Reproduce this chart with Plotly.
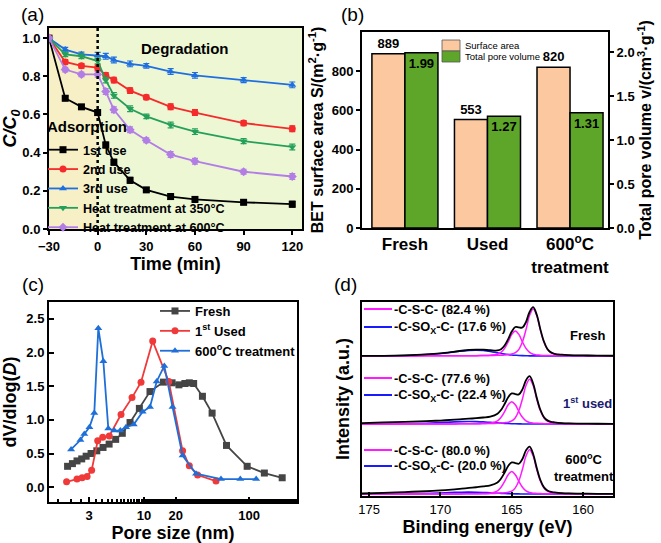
import plotly.graph_objects as go

W, H = 661, 543
FONT = "Liberation Sans, Arial, sans-serif"


def px(x):
    return x / W


def py(y):
    return 1 - y / H


# ---------------- (a) degradation kinetics ----------------
time_min = [-30, -20, -10, 0, 5, 10, 20, 30, 45, 60, 90, 120]
c_1st = [1.0, 0.685, 0.64, 0.61, 0.44, 0.35, 0.255, 0.205, 0.17, 0.155, 0.14, 0.13]
c_2nd = [1.0, 0.875, 0.855, 0.845, 0.805, 0.78, 0.725, 0.69, 0.64, 0.61, 0.555, 0.525]
c_3rd = [1.0, 0.94, 0.915, 0.91, 0.905, 0.885, 0.865, 0.855, 0.825, 0.805, 0.78, 0.755]
c_350 = [1.0, 0.915, 0.905, 0.88, 0.78, 0.70, 0.63, 0.59, 0.545, 0.51, 0.46, 0.43]
c_600 = [1.0, 0.835, 0.81, 0.81, 0.72, 0.625, 0.52, 0.465, 0.39, 0.355, 0.30, 0.275]
err_a = [0.005, 0.012, 0.012, 0.015, 0.015, 0.015, 0.015, 0.012, 0.015, 0.015, 0.013, 0.015]
names_a = ["1st use", "2nd use", "3rd use", "Heat treatment at 350°C", "Heat treatment at 600°C"]

# ---------------- (b) BET ----------------
samples_b = ["Fresh", "Used", "600<sup>o</sup>C<br>treatment"]
surface_area = [889, 553, 820]
pore_volume = [1.99, 1.27, 1.31]
names_b = ["Surface area", "Total pore volume"]

# ---------------- (c) pore size distribution ----------------
d_fresh = [1.87, 2.08, 2.30, 2.55, 2.81, 3.13, 3.55, 4.07, 4.65, 5.37, 6.21, 7.36, 9.03, 11.4,
           15.3, 18.5, 21.5, 24.5, 27.0, 29.7, 36.0, 44.5, 61.0, 96.0, 140.0, 207.0]
v_fresh = [0.31, 0.35, 0.39, 0.42, 0.46, 0.50, 0.54, 0.59, 0.64, 0.71, 0.80, 0.96, 1.17, 1.42,
           1.56, 1.55, 1.52, 1.54, 1.55, 1.54, 1.35, 1.10, 0.62, 0.31, 0.21, 0.14]
d_used = [1.83, 2.30, 2.57, 2.87, 3.17, 3.62, 4.04, 4.67, 6.04, 7.69, 9.36, 12.1, 17.2,
          23.3, 27.0, 32.4, 48.5]
v_used = [0.08, 0.12, 0.14, 0.16, 0.25, 0.69, 0.74, 0.76, 1.08, 1.33, 1.56, 2.17, 1.57,
          0.54, 0.32, 0.18, 0.09]
d_600 = [2.02, 2.48, 2.70, 3.02, 3.36, 3.67, 4.10, 4.57, 5.21, 5.95, 6.74, 7.98, 9.71, 11.4,
         13.2, 15.6, 18.7, 23.3, 31.3, 54.1, 82.6, 117.0]
v_600 = [0.56, 0.70, 0.79, 0.89, 1.10, 2.36, 1.87, 0.87, 0.84, 0.84, 0.89, 0.93, 1.12, 1.19,
         1.57, 1.80, 1.19, 0.47, 0.20, 0.12, 0.12, 0.12]

# ---------------- (d) XPS S 2p ----------------
be = [175.5, 174.0, 172.5, 171.0, 170.0, 169.0, 168.5, 168.0, 167.5, 167.0, 166.5, 166.0,
      165.75, 165.5, 165.25, 165.0, 164.75, 164.5, 164.25, 164.0, 163.75, 163.5, 163.25,
      163.0, 162.75, 162.5, 162.25, 162.0, 161.5, 161.0, 160.0, 159.0, 157.9]
# Fresh
fr_env = [0, 0.05, 0.28, 0.76, 1.33, 2.24, 2.69, 3.09, 3.29, 3.21, 2.93, 2.82, 3.47, 5.35,
          8.65, 12.56, 14.9, 14.7, 14.62, 17.5, 22.67, 25.11, 21.35, 13.95, 7.55, 3.61, 1.83,
          1.11, 0.65, 0.43, 0.25, 0.16, 0.09]
fr_p1 = [0, 0, 0.02, 0.03, 0.04, 0.07, 0.10, 0.12, 0.15, 0.19, 0.24, 0.34, 0.41, 0.53, 0.73,
         0.97, 1.65, 3.39, 7.26, 13.55, 20.81, 24.2, 20.81, 13.55, 7.26, 3.39, 1.65, 0.97,
         0.53, 0.34, 0.19, 0.12, 0.07]
fr_p2 = [0, 0, 0.01, 0.03, 0.04, 0.07, 0.09, 0.12, 0.14, 0.22, 0.39, 0.88, 1.81, 3.87, 7.22,
         11.09, 12.9, 11.09, 7.22, 3.87, 1.81, 0.88, 0.52, 0.39, 0.28, 0.22, 0.18, 0.14, 0.12,
         0.09, 0.06, 0.04, 0.02]
fr_sox = [0, 0.05, 0.25, 0.7, 1.25, 2.1, 2.5, 2.85, 3.0, 2.8, 2.3, 1.6, 1.25, 0.95, 0.7, 0.5,
          0.35, 0.22, 0.14, 0.08, 0.05, 0.03, 0.02, 0.01, 0, 0, 0, 0, 0, 0, 0, 0, 0]
# 1st used
us_env = [0.5, 0.81, 1.14, 1.46, 1.8, 2.24, 2.49, 2.74, 3.02, 3.36, 3.81, 5.3, 7.25, 10.33,
          13.82, 15.77, 15.43, 15.27, 17.88, 22.57, 24.68, 20.92, 13.68, 7.48, 3.64, 1.88,
          1.16, 0.86, 0.48, 0.32, 0.21, 0.13, 0.08]
us_p1 = [0, 0, 0.02, 0.03, 0.05, 0.07, 0.1, 0.12, 0.16, 0.21, 0.25, 0.39, 0.5, 0.69, 0.93,
         1.57, 3.24, 6.93, 12.93, 19.86, 23.1, 19.86, 12.93, 6.93, 3.24, 1.57, 0.93, 0.69,
         0.39, 0.25, 0.16, 0.1, 0.06]
us_p2 = [0, 0.01, 0.02, 0.03, 0.05, 0.07, 0.09, 0.12, 0.16, 0.25, 0.46, 1.61, 3.45, 6.44,
         9.89, 11.5, 9.89, 6.44, 3.45, 1.61, 0.78, 0.46, 0.35, 0.25, 0.2, 0.16, 0.13, 0.12,
         0.09, 0.07, 0.05, 0.03, 0.02]
us_sox = [0, 0.05, 0.15, 0.4, 0.7, 1.1, 1.25, 1.3, 1.25, 1.1, 0.85, 0.6, 0.48, 0.36, 0.26,
          0.18, 0.12, 0.08, 0.05, 0.03, 0.02, 0.01, 0, 0, 0, 0, 0, 0, 0, 0, 0, 0, 0]
# 600 C treatment
t6_env = [0.3, 0.61, 1.04, 1.46, 1.9, 2.44, 2.79, 3.14, 3.52, 3.95, 4.51, 6.01, 7.98, 11.08,
          14.49, 16.35, 15.97, 15.64, 18.05, 22.52, 24.49, 20.66, 13.52, 7.39, 3.59, 1.86,
          1.14, 0.85, 0.48, 0.32, 0.21, 0.13, 0.08]
t6_p1 = [0, 0, 0.02, 0.03, 0.05, 0.07, 0.1, 0.12, 0.16, 0.2, 0.25, 0.39, 0.5, 0.68, 0.91,
         1.55, 3.19, 6.84, 12.77, 19.6, 22.8, 19.6, 12.77, 6.84, 3.19, 1.55, 0.91, 0.68,
         0.39, 0.25, 0.16, 0.1, 0.06]
t6_p2 = [0, 0.01, 0.02, 0.03, 0.05, 0.07, 0.09, 0.12, 0.16, 0.25, 0.46, 1.62, 3.48, 6.5,
         9.98, 11.6, 9.98, 6.5, 3.48, 1.62, 0.79, 0.46, 0.35, 0.25, 0.2, 0.16, 0.13, 0.12,
         0.09, 0.07, 0.05, 0.03, 0.02]
t6_sox = [0, 0.05, 0.12, 0.3, 0.55, 0.85, 0.97, 1.0, 0.95, 0.82, 0.65, 0.45, 0.36, 0.28,
          0.2, 0.14, 0.1, 0.07, 0.04, 0.02, 0.01, 0, 0, 0, 0, 0, 0, 0, 0, 0, 0, 0, 0]
stack_offset = [72.2, 37.1, 1.0]
csc_pct = ["82.4", "77.6", "80.0"]
csox_pct = ["17.6", "22.4", "20.0"]
xps_labels = ["Fresh", "1<sup>st</sup> used", "600<sup>o</sup>C<br>treatment"]

fig = go.Figure()

# ---- panel a traces
colors_a = ["#000000", "#f52a2a", "#1f6fe0", "#24a05a", "#b27ee6"]
symbols_a = ["square", "circle", "triangle-up", "triangle-down", "diamond"]
for name, ys, col, sym in zip(names_a, [c_1st, c_2nd, c_3rd, c_350, c_600], colors_a, symbols_a):
    fig.add_trace(go.Scatter(
        x=time_min, y=ys, name=name, mode="lines+markers",
        line=dict(color=col, width=1.8),
        marker=dict(symbol=sym, size=7, color=col),
        error_y=dict(type="data", array=err_a, color=col, thickness=1.2, width=3),
        xaxis="x", yaxis="y", legend="legend"))

# ---- panel b traces
colors_b = ["#fbc8a0", "#5ea62a"]
fig.add_trace(go.Bar(
    x=samples_b, y=surface_area, name=names_b[0], width=0.4, offset=-0.4,
    marker=dict(color=colors_b[0], line=dict(color="black", width=1.5)),
    text=[str(v) for v in surface_area], textposition="outside", constraintext="none",
    textfont=dict(family=FONT, size=13, color="black", weight="bold"), cliponaxis=False,
    xaxis="x2", yaxis="y2", showlegend=False))
fig.add_trace(go.Bar(
    x=samples_b, y=pore_volume, name=names_b[1], width=0.4, offset=0.0,
    marker=dict(color=colors_b[1], line=dict(color="black", width=1.5)),
    text=[f"{v:.2f}" for v in pore_volume], textposition="inside", insidetextanchor="end",
    constraintext="none",
    textfont=dict(family=FONT, size=13, color="black", weight="bold"),
    xaxis="x2", yaxis="y3", showlegend=False))

# ---- panel c traces
for name, xs, ys, col, sym in [
        ("Fresh", d_fresh, v_fresh, "#454545", "square"),
        ("1<sup>st</sup> Used", d_used, v_used, "#f03a3a", "circle"),
        ("600<sup>o</sup>C treatment", d_600, v_600, "#1f6fd8", "triangle-up")]:
    fig.add_trace(go.Scatter(
        x=xs, y=ys, name=name, mode="lines+markers",
        line=dict(color=col, width=1.8), marker=dict(symbol=sym, size=7, color=col),
        xaxis="x4", yaxis="y4", legend="legend3"))

# ---- panel d traces
for off, env, p1, p2, sox in zip(stack_offset, [fr_env, us_env, t6_env],
                                 [fr_p1, us_p1, t6_p1], [fr_p2, us_p2, t6_p2],
                                 [fr_sox, us_sox, t6_sox]):
    for ys, col, wdt in [(sox, "#1a1aff", 1.6), (p1, "#ff1aff", 1.5), (p2, "#ff1aff", 1.5),
                         (env, "#000000", 1.8)]:
        fig.add_trace(go.Scatter(
            x=be, y=[off + v for v in ys], mode="lines", line=dict(color=col, width=wdt, shape="spline"),
            showlegend=False, xaxis="x5", yaxis="y5"))

# ---- axes
axis_common = dict(showline=True, linecolor="black", linewidth=2, mirror=True, showgrid=False,
                   zeroline=False, tickcolor="black", automargin=False)
tickf = dict(family=FONT, size=13, color="black", weight="bold")
titlef = dict(family=FONT, size=18, color="black", weight="bold")

fig.update_layout(
    width=W, height=H, margin=dict(l=0, r=0, t=0, b=0, autoexpand=False),
    paper_bgcolor="white", plot_bgcolor="rgba(0,0,0,0)",
    font=dict(family=FONT, color="black"),
    xaxis=dict(domain=[px(49), px(302)], range=[-30, 126], tickvals=[-30, 0, 30, 60, 90, 120],
               ticks="outside", ticklen=4, tickwidth=1.5, tickfont=tickf, anchor="y",
               title=dict(text="Time (min)", font=titlef, standoff=2), **axis_common),
    yaxis=dict(domain=[py(229), py(28)], range=[0, 1.053], tickvals=[0, 0.2, 0.4, 0.6, 0.8, 1.0],
               tickformat=".1f", ticks="outside", ticklen=4, tickwidth=1.5, tickfont=tickf, anchor="x",
               title=dict(text="<i>C/C<sub>0</sub></i>", font=titlef, standoff=4), **axis_common),
    xaxis2=dict(domain=[px(362), px(608)], range=[-0.52, 2.46], type="category",
                ticks="", tickfont=dict(family=FONT, size=17, color="black", weight="bold"),
                anchor="y2", **axis_common),
    yaxis2=dict(domain=[py(228), py(32)], range=[0, 1000], tickvals=[0, 200, 400, 600, 800],
                ticks="outside", ticklen=4, tickwidth=1.5, tickfont=tickf, anchor="x2",
                title=dict(text="BET surface area S/(m<sup>2</sup>·g<sup>-1</sup>)",
                           font=dict(family=FONT, size=16, color="black", weight="bold"), standoff=4),
                **axis_common),
    yaxis3=dict(range=[0, 2.227], tickvals=[0, 0.5, 1.0, 1.5, 2.0], tickformat=".1f",
                overlaying="y2", side="right", anchor="x2",
                ticks="outside", ticklen=4, tickwidth=1.5, tickfont=tickf,
                title=dict(text="Total pore volume v/(cm<sup>3</sup>·g<sup>-1</sup>)",
                           font=dict(family=FONT, size=16, color="black", weight="bold"), standoff=1),
                showline=True, linecolor="black", linewidth=2, showgrid=False, zeroline=False,
                tickcolor="black", automargin=False),
    xaxis4=dict(domain=[px(49), px(297)], type="log", range=[0.095, 2.457],
                tickvals=[3, 10, 20, 100], ticktext=["3", "10", "20", "100"],
                ticks="inside", ticklen=5, tickwidth=1.5, tickfont=tickf, anchor="y4",
                minor=dict(ticks="inside", ticklen=3, tickcolor="black", showgrid=False),
                title=dict(text="Pore size (nm)", font=titlef, standoff=2), **axis_common),
    yaxis4=dict(domain=[py(502), py(302)], range=[-0.22, 2.75],
                tickvals=[0, 0.5, 1.0, 1.5, 2.0, 2.5], tickformat=".1f",
                ticks="inside", ticklen=5, tickwidth=1.5, tickfont=tickf, anchor="x4",
                title=dict(text="dV/dlog(<i>D</i>)", font=titlef, standoff=6), **axis_common),
    xaxis5=dict(domain=[px(362), px(613)], range=[175.5, 157.9], tickvals=[175, 170, 165, 160],
                ticks="inside", ticklen=4, tickwidth=1.5,
                tickfont=dict(family=FONT, size=13, color="black"), anchor="y5",
                title=dict(text="Binding energy (eV)", font=titlef, standoff=2), **axis_common),
    yaxis5=dict(domain=[py(496), py(302)], range=[0, 100], showticklabels=False, ticks="",
                anchor="x5",
                title=dict(text="Intensity (a.u.)", font=titlef, standoff=6), **axis_common),
    legend=dict(x=px(43), y=py(135), xanchor="left", yanchor="top", bgcolor="rgba(0,0,0,0)",
                font=dict(family=FONT, size=12.6, color="black", weight="bold"),
                itemwidth=30, tracegroupgap=0),
    legend3=dict(x=px(155), y=py(296), xanchor="left", yanchor="top", bgcolor="rgba(0,0,0,0)",
                 font=dict(family=FONT, size=13, color="black", weight="bold"), itemwidth=30),
    showlegend=True,
)

# ---- shapes
shapes = [
    dict(type="rect", xref="x", yref="y", x0=-30, x1=0, y0=0, y1=1.053,
         fillcolor="#f7f0c6", line=dict(width=0), layer="below"),
    dict(type="rect", xref="x", yref="y", x0=0, x1=126, y0=0, y1=1.053,
         fillcolor="#edf7d4", line=dict(width=0), layer="below"),
    dict(type="line", xref="x", yref="y", x0=0, x1=0, y0=0, y1=1.053,
         line=dict(color="black", width=2.5, dash="dot")),
]


def A(text, x, y, size, color="black", weight="bold", xanchor="center"):
    return dict(text=text, x=px(x), y=py(y), xref="paper", yref="paper", showarrow=False,
                xanchor=xanchor, yanchor="middle",
                font=dict(family=FONT, size=size, color=color, weight=weight))


ann = [
    A("Degradation", 185, 48, 15),
    A("Adsorption", 87, 127, 15),
]
for lab, xx, yy in [("(a)", 32, 14), ("(b)", 352, 14), ("(c)", 33, 284), ("(d)", 345, 284)]:
    ann.append(A(lab, xx, yy, 19, weight="normal"))

# panel b legend (swatches + labels)
for (y0, y1), col, nm in zip([(40, 51), (51, 62)], colors_b, names_b):
    shapes.append(dict(type="rect", xref="paper", yref="paper", x0=px(442), x1=px(460),
                       y0=py(y1), y1=py(y0), fillcolor=col, line=dict(color="#555", width=0.8)))
    ann.append(A(nm, 463, (y0 + y1) / 2, 9.5, weight="normal", xanchor="left"))

# XPS legends & labels
leg_rows = [(309, 327), (378, 395), (450, 466)]
lab_pos = [(587, 335, "black"), (587, 403, "#1b1a6e"), (584, 467, "black")]
for (ym, yb), a_pct, b_pct, lab, (lx, ly, lc) in zip(leg_rows, csc_pct, csox_pct, xps_labels, lab_pos):
    shapes.append(dict(type="line", xref="paper", yref="paper", x0=px(364), x1=px(392),
                       y0=py(ym), y1=py(ym), line=dict(color="#ff1aff", width=2)))
    shapes.append(dict(type="line", xref="paper", yref="paper", x0=px(364), x1=px(392),
                       y0=py(yb), y1=py(yb), line=dict(color="#1a1aff", width=2)))
    ann.append(A(f"-C-S-C- ({a_pct} %)", 392, ym, 12.8, xanchor="left"))
    ann.append(A(f"-C-SO<sub>X</sub>-C- ({b_pct} %)", 392, yb, 12.8, xanchor="left"))
    ann.append(A(lab, lx, ly, 13, color=lc))

fig.update_layout(shapes=shapes, annotations=ann)
fig.write_html("out.html", config={"displayModeBar": False},
               post_script="document.body.style.margin='0';document.body.style.overflow='hidden';")
